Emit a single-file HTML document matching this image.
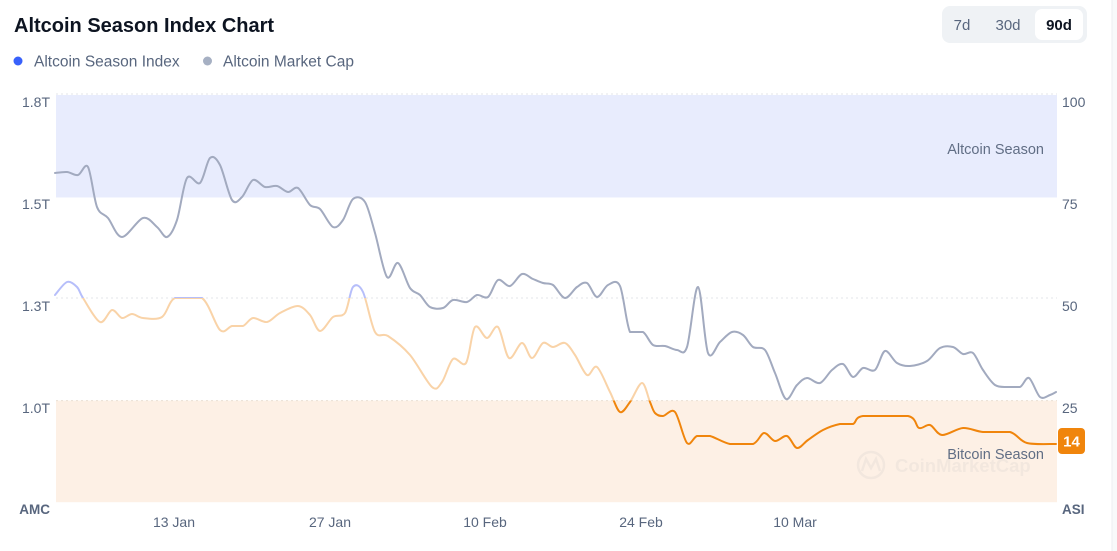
<!DOCTYPE html>
<html><head><meta charset="utf-8">
<style>
html,body{margin:0;padding:0;background:#fff;}
body{width:1117px;height:551px;overflow:hidden;position:relative;font-family:"Liberation Sans",Arial,sans-serif;}
svg{position:absolute;left:0;top:0;}
</style></head>
<body>
<svg width="1117" height="551" viewBox="0 0 1117 551" xmlns="http://www.w3.org/2000/svg" font-family="Liberation Sans, Arial, sans-serif">
<defs>
<linearGradient id="asi" gradientUnits="userSpaceOnUse" x1="0" y1="0" x2="0" y2="551">
<stop offset="0" stop-color="#b6befa"/>
<stop offset="0.5408" stop-color="#b6befa"/>
<stop offset="0.5408" stop-color="#f9d3a8"/>
<stop offset="0.727" stop-color="#f9d3a8"/>
<stop offset="0.727" stop-color="#f0850c"/>
<stop offset="1" stop-color="#f0850c"/>
</linearGradient>
</defs>
<!-- right side panel -->
<rect x="1112" y="0" width="5" height="551" fill="#f8f9fa"/>
<line x1="1112" y1="0" x2="1112" y2="551" stroke="#eceef1" stroke-width="1"/>

<!-- title -->
<text x="14" y="32" font-size="20" font-weight="bold" fill="#0d1421">Altcoin Season Index Chart</text>
<!-- legend -->
<circle cx="18" cy="61" r="4.5" fill="#3861fb"/>
<text x="34" y="66.5" font-size="15.5" fill="#58667e">Altcoin Season Index</text>
<circle cx="207.5" cy="61" r="4.5" fill="#a6b0c3"/>
<text x="223" y="66.5" font-size="15.5" fill="#58667e">Altcoin Market Cap</text>

<!-- range buttons -->
<rect x="942" y="6" width="145" height="37" rx="8" fill="#eff2f5"/>
<rect x="1035" y="9" width="48" height="31" rx="7" fill="#ffffff"/>
<text x="962" y="30" font-size="15" fill="#58667e" text-anchor="middle">7d</text>
<text x="1008" y="30" font-size="15" fill="#58667e" text-anchor="middle">30d</text>
<text x="1059" y="30" font-size="15" font-weight="bold" fill="#0d1421" text-anchor="middle">90d</text>

<!-- bands -->
<rect x="56" y="95" width="1001" height="102.5" fill="#e8ecfd"/>
<rect x="56" y="400.6" width="1001" height="101.6" fill="#fdf0e5"/>
<!-- gridlines -->
<line x1="56" y1="94" x2="1057" y2="94" stroke="#e3e6ea" stroke-dasharray="2,3"/>
<line x1="56" y1="298" x2="1057" y2="298" stroke="#e3e6ea" stroke-dasharray="2,3"/>
<line x1="56" y1="400.6" x2="1057" y2="400.6" stroke="#eadfd4" stroke-dasharray="2,3"/>

<!-- band labels -->
<text x="1044" y="154" font-size="14.5" fill="#616e85" text-anchor="end">Altcoin Season</text>
<text x="1044" y="459" font-size="14.5" fill="#616e85" text-anchor="end">Bitcoin Season</text>

<!-- watermark -->
<g opacity="0.06">
<circle cx="871" cy="465" r="13" fill="none" stroke="#58667e" stroke-width="2.5"/>
<path d="M862 471 L866 459 L871 468 L876 459 L880 471" fill="none" stroke="#58667e" stroke-width="2.5"/>
<text x="895" y="472" font-size="18.5" font-weight="bold" fill="#58667e">CoinMarketCap</text>
</g>

<!-- left axis -->
<g font-size="14" fill="#58667e" text-anchor="end">
<text x="50" y="107">1.8T</text>
<text x="50" y="209">1.5T</text>
<text x="50" y="311">1.3T</text>
<text x="50" y="413">1.0T</text>
</g>
<text x="50" y="514" font-size="13.5" font-weight="bold" fill="#58667e" text-anchor="end">AMC</text>
<!-- right axis -->
<g font-size="14" fill="#58667e">
<text x="1062" y="107">100</text>
<text x="1062" y="209">75</text>
<text x="1062" y="311">50</text>
<text x="1062" y="413">25</text>
</g>
<text x="1062" y="514" font-size="13.5" font-weight="bold" fill="#58667e">ASI</text>
<!-- x axis -->
<g font-size="14" fill="#58667e" text-anchor="middle">
<text x="174" y="527">13 Jan</text>
<text x="330" y="527">27 Jan</text>
<text x="485" y="527">10 Feb</text>
<text x="641" y="527">24 Feb</text>
<text x="795" y="527">10 Mar</text>
</g>

<path id="mc" fill="none" stroke="#a2aabf" stroke-width="2" stroke-linejoin="round" stroke-linecap="round" d=""/>
<path id="asiLine" fill="none" stroke="url(#asi)" stroke-width="2" stroke-linejoin="round" stroke-linecap="round" d=""/>

<!-- badge -->
<rect x="1058" y="428" width="27" height="26" rx="4" fill="#f0850c"/>
<text x="1071.5" y="446.5" font-size="15" font-weight="bold" fill="#fff" text-anchor="middle">14</text>
</svg>
<script>
var mc=[[55,173],[67,172],[78,175],[88,167],[97,207],[108,218],[122,237],[143,218],[157,227],[167,237],[177,220],[187,178],[200,183],[210,158],[220,165],[232,200],[242,197],[253,180],[265,187],[277,186],[288,192],[298,188],[310,205],[320,209],[333,227],[343,220],[353,199],[365,202],[375,233],[387,277],[398,263],[410,288],[420,295],[430,307],[443,308],[453,300],[467,302],[477,295],[488,297],[498,280],[510,286],[522,274],[533,279],[543,283],[553,285],[565,298],[577,287],[587,283],[597,297],[608,285],[620,286],[630,332],[643,332],[653,345],[665,346],[677,350],[687,347],[698,287],[708,353],[720,342],[732,332],[743,335],[753,347],[765,350],[775,373],[786,399],[797,385],[807,378],[820,383],[832,370],[843,364],[853,377],[863,368],[875,370],[885,351],[897,363],[910,366],[927,361],[940,348],[953,347],[963,354],[973,353],[983,370],[995,385],[1008,387],[1020,387],[1029,378],[1040,397],[1050,395],[1056,392]];
var asi=[[55,295],[67,282],[77,287],[83,298],[100,322],[112,310],[122,318],[132,314],[143,318],[162,317],[175,298],[202,298],[220,330],[232,326],[243,326],[253,318],[267,322],[280,313],[298,306],[310,315],[320,331],[333,317],[345,313],[353,287],[363,292],[375,332],[388,336],[410,355],[432,387],[442,382],[453,359],[466,363],[475,327],[487,338],[498,327],[509,358],[522,343],[532,358],[543,343],[553,347],[565,343],[575,355],[587,375],[597,367],[610,392],[620,412],[630,402],[642,383],[650,402],[655,413],[663,416],[675,412],[687,443],[697,436],[710,436],[730,444],[753,444],[764,433],[775,441],[787,436],[797,448],[808,440],[823,430],[840,424],[853,424],[863,416],[908,416],[919,428],[930,425],[942,435],[963,428],[983,432],[1010,432],[1027,443],[1056,444]];
function smooth(p){
  var d="M"+p[0][0]+","+p[0][1];
  var t=0.16;
  for(var i=0;i<p.length-1;i++){
    var p0=p[i-1]||p[i],p1=p[i],p2=p[i+1],p3=p[i+2]||p[i+1];
    var c1x=p1[0]+(p2[0]-p0[0])*t,c1y=p1[1]+(p2[1]-p0[1])*t;
    var c2x=p2[0]-(p3[0]-p1[0])*t,c2y=p2[1]-(p3[1]-p1[1])*t;
    if(p1[1]===p2[1]){c1y=p1[1];c2y=p2[1];}
    d+=" C"+c1x.toFixed(1)+","+c1y.toFixed(1)+" "+c2x.toFixed(1)+","+c2y.toFixed(1)+" "+p2[0]+","+p2[1];
  }
  return d;
}
document.getElementById("mc").setAttribute("d",smooth(mc));
document.getElementById("asiLine").setAttribute("d",smooth(asi));
</script>
</body></html>
